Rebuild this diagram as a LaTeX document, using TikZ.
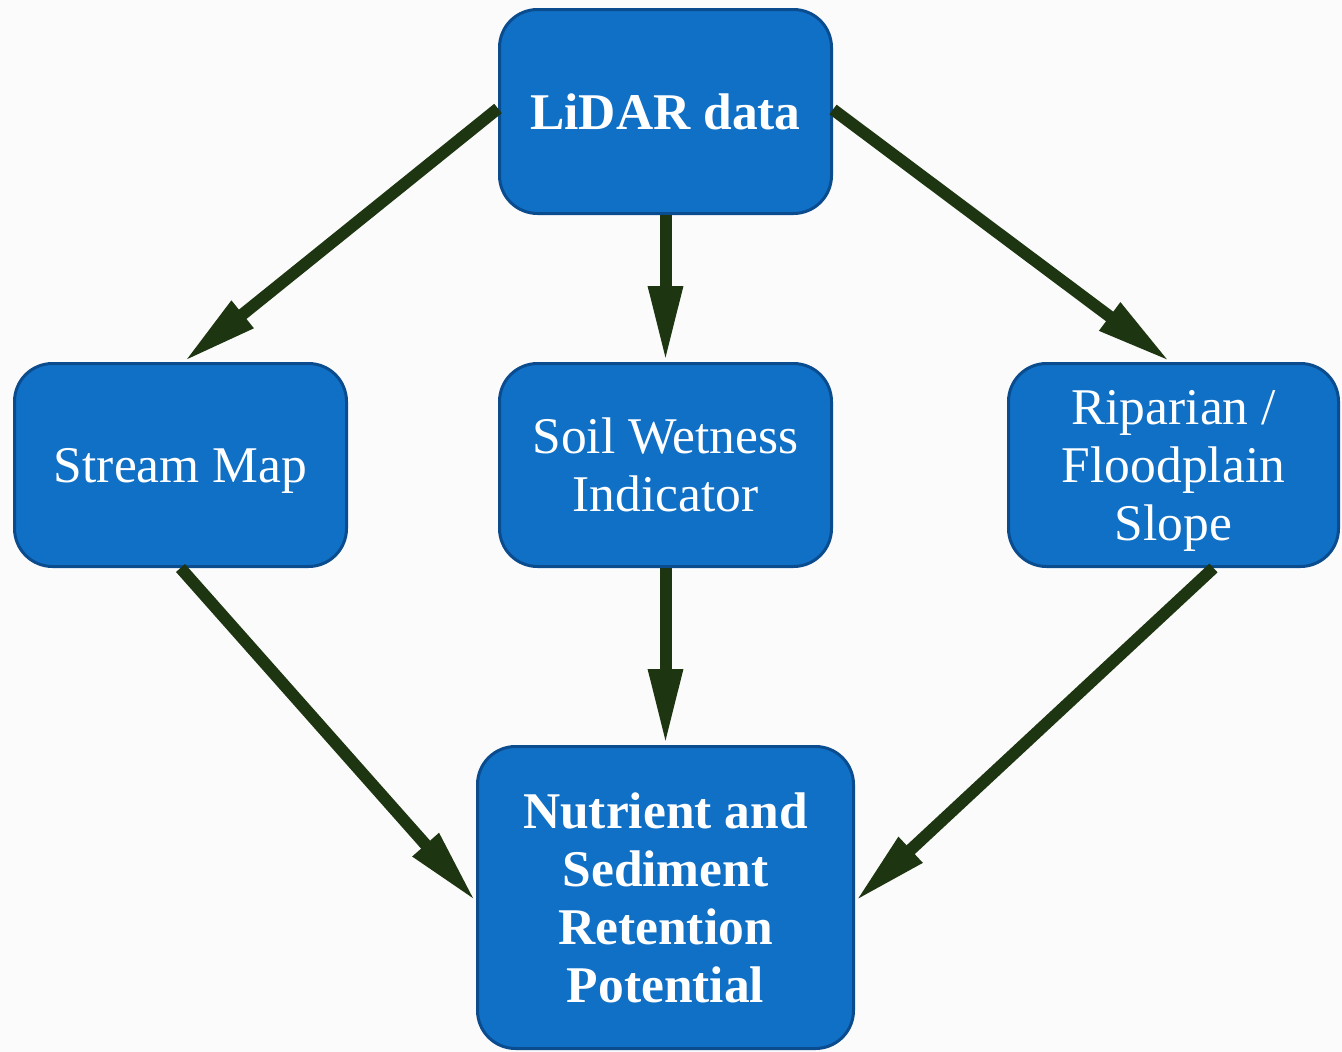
\documentclass[tikz,border=0pt]{standalone}
\usepackage{fontspec}
\setmainfont{Liberation Serif}
\usetikzlibrary{arrows.meta}
\definecolor{boxfill}{HTML}{1070C6}
\definecolor{boxline}{HTML}{0A4C8E}
\definecolor{arrowcol}{HTML}{1E3512}
\definecolor{bg}{HTML}{FBFBFB}
\tikzset{
  box/.style={draw=boxline, line width=3pt, fill=boxfill, rounded corners=38pt,
    text=white, align=center, inner sep=0pt, text depth=0pt,
    font=\fontsize{51.5}{58}\selectfont},
  flow/.style={draw=arrowcol, line width=12pt,
    -{Triangle[length=76pt,width=32pt]}}
}
\begin{document}
\begin{tikzpicture}[x=1pt,y=-1pt]
\fill[bg] (0,0) rectangle (1342,1052);
\useasboundingbox (0,0) rectangle (1342,1052);
\node[box, minimum width=332pt, minimum height=204pt] (lidar) at (665.5,111.5) {\bfseries LiDAR data};
\node[box, minimum width=332pt, minimum height=203pt] (stream) at (180.5,465) {Stream Map};
\node[box, minimum width=332pt, minimum height=203pt] (soil) at (665.5,465) {Soil Wetness\\Indicator};
\node[box, minimum width=330pt, minimum height=203pt] (rip) at (1173.5,465) {Riparian /\\Floodplain\\Slope};
\node[box, minimum width=376pt, minimum height=302pt] (nut) at (665.5,897.5) {\bfseries Nutrient and\\\bfseries Sediment\\\bfseries Retention\\\bfseries Potential};
\draw[flow] ([yshift=3pt]lidar.west) -- ([xshift=3pt]stream.north);
\draw[flow] (lidar.south) -- (soil.north);
\draw[flow] ([yshift=2pt]lidar.east) -- ([xshift=-3pt]rip.north);
\draw[flow] (stream.south) -- ([yshift=-4pt]nut.west);
\draw[flow] (soil.south) -- (nut.north);
\draw[flow] ([xshift=40pt]rip.south) -- ([yshift=-4pt]nut.east);
\end{tikzpicture}
\end{document}
